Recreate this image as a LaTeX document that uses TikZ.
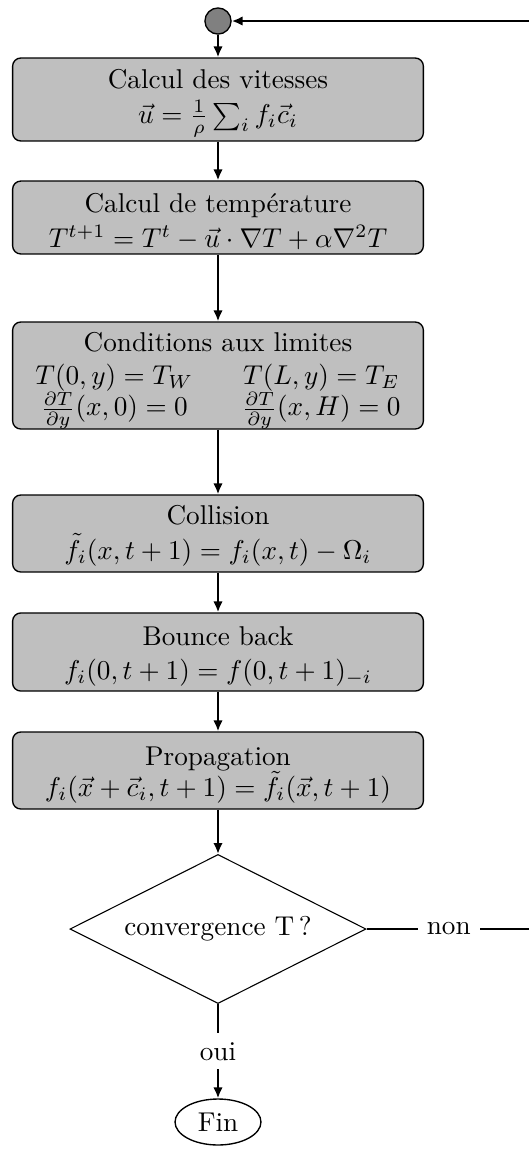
\documentclass[tikz,border=0pt]{standalone}
\usetikzlibrary{shapes.geometric,arrows.meta}
\begin{document}
\begin{tikzpicture}[x=0.3676pt,y=-0.3676pt,
  box/.style={draw=black, line width=0.5pt, fill=lightgray, rounded corners=3pt,
    minimum width=151pt, align=center, inner sep=0pt},
  arr/.style={line width=0.8pt, -{Latex[length=4pt,width=3.5pt]}},
  lbl/.style={fill=white}]
\useasboundingbox (0,0) rectangle (528,1151);
\node[circle, draw, line width=0.5pt, fill=gray, minimum size=9.6pt, inner sep=0pt] (start) at (218,21) {};
\node[box, minimum height=30.5pt] (b1) at (218,99.5)
  {\rule{0pt}{9.5pt}Calcul des vitesses\\[1.1pt] $\vec{u}=\frac{1}{\rho}\sum_i f_i\vec{c}_i$};
\node[box, minimum height=26.8pt] (b2) at (218,217.5)
  {\rule{0pt}{10pt}Calcul de température\\[1.1pt] $T^{t+1}=T^{t}-\vec{u}\cdot\nabla T+\alpha\nabla^2 T$};
\node[box, minimum height=39.3pt] (b3) at (218,375.5)
  {\rule{0pt}{11pt}Conditions aux limites\\[2.5pt]
   $\begin{array}{c@{\hspace{18pt}}c}
     T(0,y)=T_W & T(L,y)=T_E\\[-1pt]
     \frac{\partial T}{\partial y}(x,0)=0 & \frac{\partial T}{\partial y}(x,H)=0
   \end{array}$};
\node[box, minimum height=28.3pt] (b4) at (218,533.5)
  {\rule{0pt}{8.5pt}Collision\\[0.75pt] $\tilde{f}_i(x,t+1)=f_i(x,t)-\Omega_i$};
\node[box, minimum height=28.7pt] (b5) at (218,652)
  {\rule{0pt}{10.2pt}Bounce back\\[0.4pt] $f_i(0,t+1)=f(0,t+1)_{-i}$};
\node[box, minimum height=28.3pt] (b6) at (218,770.5)
  {\rule{0pt}{10pt}Propagation\\[-0.5pt] $f_i(\vec{x}+\vec{c}_i,t+1)=\tilde{f}_i(\vec{x},t+1)$};
\node[diamond, draw, line width=0.4pt, aspect=2, minimum width=108.8pt,
  minimum height=54.8pt, inner sep=0pt] (conv) at (218,929) {convergence T\,?};
\node[ellipse, draw, line width=0.5pt, minimum width=31.6pt, minimum height=16.9pt,
  inner sep=0pt] (fin) at (218,1122) {Fin};
\coordinate (r1) at (531,929);
\coordinate (r2) at (531,21);
\draw[arr] (start) -- (b1);
\draw[arr] (b1) -- (b2);
\draw[arr] (b2) -- (b3);
\draw[arr] (b3) -- (b4);
\draw[arr] (b4) -- (b5);
\draw[arr] (b5) -- (b6);
\draw[arr] (b6) -- (conv);
\draw[arr] (conv) -- node[lbl] {oui} (fin);
\draw[arr] (conv.east) -- node[lbl] {non} (r1) -- (r2) -- (start);
\end{tikzpicture}
\end{document}
